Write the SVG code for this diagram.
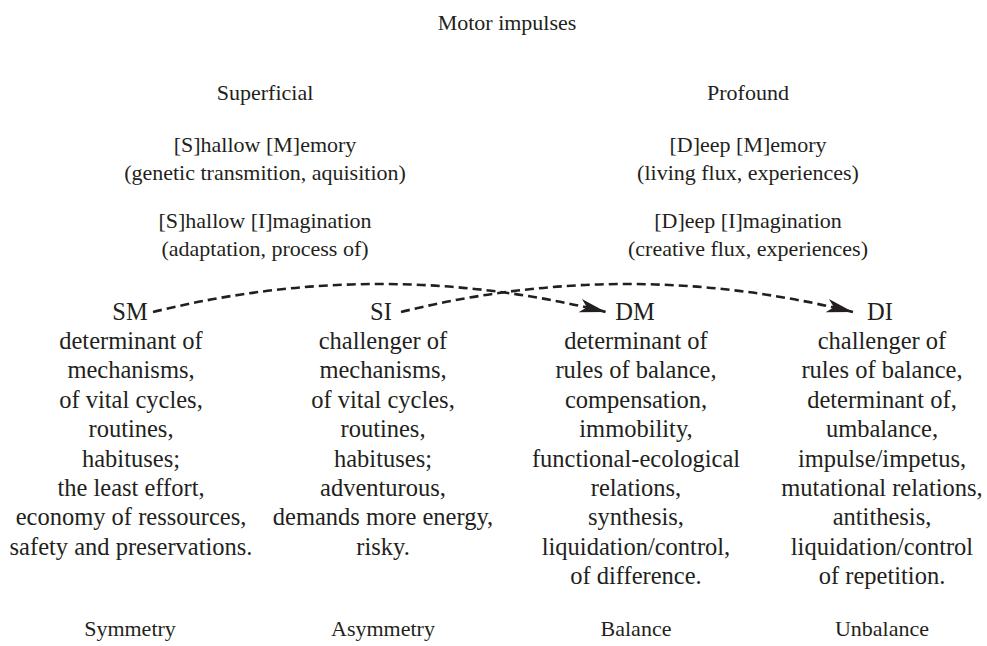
<svg xmlns="http://www.w3.org/2000/svg" width="987" height="646" viewBox="0 0 987 646">
<defs>
<style>
text{font-family:"Liberation Serif","Times New Roman",serif;fill:#231f20;text-anchor:middle}
.h{font-size:22px}
.b{font-size:24.5px}
.conn{fill:none;stroke:#231f20;stroke-width:2.6;stroke-dasharray:9 5}
</style>
<marker id="ah" markerUnits="userSpaceOnUse" markerWidth="30" markerHeight="20" viewBox="-24 -8 26 16" refX="0" refY="0" orient="auto">
<path d="M0,0 L-23,-6 L-17,0 L-23,6 Z" fill="#231f20"/>
</marker>
</defs>
<rect width="987" height="646" fill="#ffffff"/>
<g id="header">
<text class="h" x="507" y="30">Motor impulses</text>
</g>
<g id="superficial">
<text class="h" x="265" y="100">Superficial</text>
<text class="h" x="265" y="152">[S]hallow [M]emory</text>
<text class="h" x="265" y="180">(genetic transmition, aquisition)</text>
<text class="h" x="265" y="228">[S]hallow [I]magination</text>
<text class="h" x="265" y="256">(adaptation, process of)</text>
</g>
<g id="profound">
<text class="h" x="748" y="100">Profound</text>
<text class="h" x="748" y="152">[D]eep [M]emory</text>
<text class="h" x="748" y="180">(living flux, experiences)</text>
<text class="h" x="748" y="228">[D]eep [I]magination</text>
<text class="h" x="748" y="256">(creative flux, experiences)</text>
</g>
<g id="connectors">
<path class="conn" d="M153,312 Q380,256 606,312" marker-end="url(#ah)"/>
<path class="conn" d="M401,312 Q627,256 853,312" marker-end="url(#ah)"/>
</g>
<g id="SM">
<text class="b" x="130" y="320">SM</text>
<text class="b" x="131" y="349">determinant of</text>
<text class="b" x="131" y="378.4">mechanisms,</text>
<text class="b" x="131" y="407.8">of vital cycles,</text>
<text class="b" x="131" y="437.2">routines,</text>
<text class="b" x="131" y="466.6">habituses;</text>
<text class="b" x="131" y="496">the least effort,</text>
<text class="b" x="131" y="525.4">economy of ressources,</text>
<text class="b" x="131" y="554.8">safety and preservations.</text>
</g>
<g id="SI">
<text class="b" x="381" y="320">SI</text>
<text class="b" x="383" y="349">challenger of</text>
<text class="b" x="383" y="378.4">mechanisms,</text>
<text class="b" x="383" y="407.8">of vital cycles,</text>
<text class="b" x="383" y="437.2">routines,</text>
<text class="b" x="383" y="466.6">habituses;</text>
<text class="b" x="383" y="496">adventurous,</text>
<text class="b" x="383" y="525.4">demands more energy,</text>
<text class="b" x="383" y="554.8">risky.</text>
</g>
<g id="DM">
<text class="b" x="635" y="320">DM</text>
<text class="b" x="636" y="349">determinant of</text>
<text class="b" x="636" y="378.4">rules of balance,</text>
<text class="b" x="636" y="407.8">compensation,</text>
<text class="b" x="636" y="437.2">immobility,</text>
<text class="b" x="636" y="466.6">functional-ecological</text>
<text class="b" x="636" y="496">relations,</text>
<text class="b" x="636" y="525.4">synthesis,</text>
<text class="b" x="636" y="554.8">liquidation/control,</text>
<text class="b" x="636" y="584.2">of difference.</text>
</g>
<g id="DI">
<text class="b" x="880" y="320">DI</text>
<text class="b" x="882" y="349">challenger of</text>
<text class="b" x="882" y="378.4">rules of balance,</text>
<text class="b" x="882" y="407.8">determinant of,</text>
<text class="b" x="882" y="437.2">umbalance,</text>
<text class="b" x="882" y="466.6">impulse/impetus,</text>
<text class="b" x="882" y="496">mutational relations,</text>
<text class="b" x="882" y="525.4">antithesis,</text>
<text class="b" x="882" y="554.8">liquidation/control</text>
<text class="b" x="882" y="584.2">of repetition.</text>
</g>
<g id="footer">
<text class="h" x="130" y="636">Symmetry</text>
<text class="h" x="383" y="636">Asymmetry</text>
<text class="h" x="636" y="636">Balance</text>
<text class="h" x="882" y="636">Unbalance</text>
</g>
</svg>
